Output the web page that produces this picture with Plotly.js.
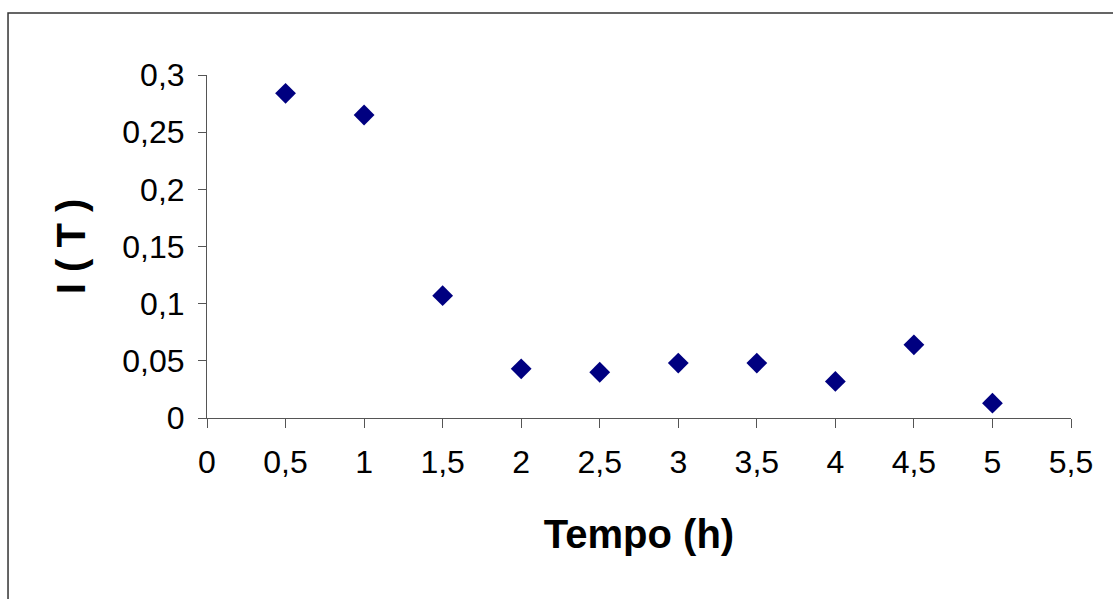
<!DOCTYPE html>
<html>
<head>
<meta charset="utf-8">
<script src="https://cdn.plot.ly/plotly-3.0.1.min.js"></script>
<style>
html,body{margin:0;padding:0;background:#fff;}
#chart{width:1113px;height:599px;}
</style>
</head>
<body>
<div id="chart"></div>
<script>
const tempo = [0.5, 1, 1.5, 2, 2.5, 3, 3.5, 4, 4.5, 5];
const intensidade = [0.284, 0.265, 0.107, 0.043, 0.040, 0.048, 0.048, 0.032, 0.064, 0.013];
const xTitle = 'Tempo (h)';
const yTitle = 'I ( T )';

const trace = {
  x: tempo,
  y: intensidade,
  type: 'scatter',
  mode: 'markers',
  marker: {symbol: 'diamond', size: 16, color: '#000080'},
  hoverinfo: 'x+y'
};

const axisCommon = {
  showgrid: false,
  zeroline: false,
  showline: true,
  linecolor: '#555',
  linewidth: 1,
  ticks: 'outside',
  tickcolor: '#555',
  tickwidth: 1,
  ticklabelstandoff: 7,
  tickfont: {family: '"Liberation Sans", Arial, sans-serif', size: 32, color: '#000'}
};

const layout = {
  width: 1113,
  height: 599,
  margin: {l: 207, r: 42, t: 75, b: 181},
  paper_bgcolor: '#fff',
  plot_bgcolor: '#fff',
  separators: ',.',
  showlegend: false,
  font: {family: '"Liberation Sans", Arial, sans-serif', color: '#000'},
  xaxis: Object.assign({}, axisCommon, {
    range: [0, 5.5],
    dtick: 0.5,
    tick0: 0,
    ticklen: 9,
    title: {text: xTitle, font: {size: 40, family: '"Liberation Sans", Arial, sans-serif', weight: 'bold', color: '#000'}, standoff: 40}
  }),
  yaxis: Object.assign({}, axisCommon, {
    range: [0, 0.3],
    dtick: 0.05,
    tick0: 0,
    ticklen: 8,
    title: {text: yTitle, font: {size: 40, family: '"Liberation Sans", Arial, sans-serif', weight: 'bold', color: '#000'}, standoff: 24}
  }),
  shapes: [{
    type: 'rect', xref: 'paper', yref: 'paper',
    x0: -0.2303, x1: 1.1, y0: -0.6, y1: 1.1808,
    line: {color: '#333', width: 1.5},
    fillcolor: 'rgba(0,0,0,0)',
    layer: 'below'
  }]
};

Plotly.newPlot('chart', [trace], layout, {displayModeBar: false, staticPlot: true});
</script>
</body>
</html>
